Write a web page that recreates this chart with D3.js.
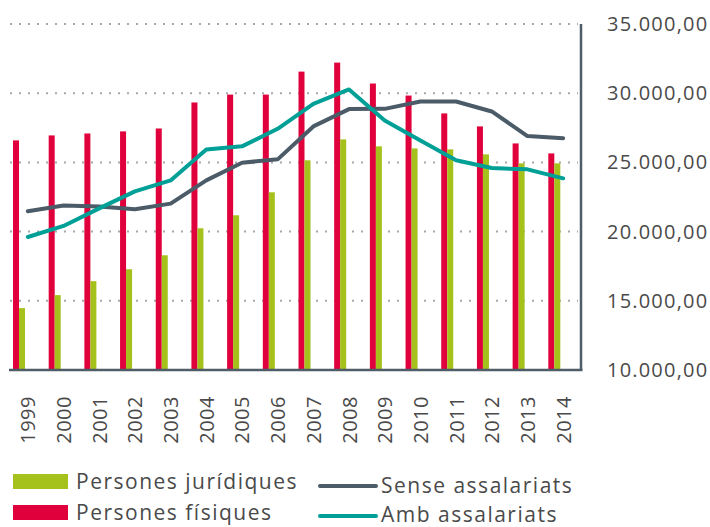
<!DOCTYPE html>
<html>
<head>
<meta charset="utf-8">
<script src="https://cdn.jsdelivr.net/npm/d3@7"></script>
<style>
  body { margin: 0; background: #fff; }
  svg { display: block; font-family: "Open Sans", sans-serif; }
</style>
</head>
<body>
<div id="viz"></div>
<script>
let years = ["1999","2000","2001","2002","2003","2004","2005","2006","2007","2008","2009","2010","2011","2012","2013","2014"];
let fisiques   = [26590, 26950, 27090, 27240, 27450, 29330, 29900, 29900, 31560, 32210, 30700, 29830, 28540, 27600, 26370, 25650];
let juridiques = [14470, 15410, 16420, 17280, 18290, 20240, 21180, 22840, 25150, 26660, 26160, 26010, 25940, 25580, 24930, 24930];
let sense      = [21470, 21880, 21810, 21610, 22020, 23700, 24980, 25220, 27600, 28850, 28870, 29400, 29400, 28680, 26900, 26750];
let amb        = [19610, 20410, 21680, 22910, 23700, 25940, 26160, 27430, 29230, 30270, 28030, 26590, 25150, 24590, 24500, 23850];
let yTicks = [10000, 15000, 20000, 25000, 30000, 35000];
let barSeries = ["Persones físiques", "Persones jurídiques"];
let lineSeries = ["Sense assalariats", "Amb assalariats"];

function draw() {
	let width = 710, height = 527;
	let left = 10, right = 581, top = 24, bottom = 370;

	let colors = {
		"Persones físiques": "#e0003b",
		"Persones jurídiques": "#a4c11c",
		"Sense assalariats": "#4b5b67",
		"Amb assalariats": "#00a097"
	};
	let axisColor = "#4f5d69";
	let textColor = "#4a4a4a";

	let svg = d3.select("#viz").append("svg")
		.attr("width", width).attr("height", height);

	let x = d3.scaleBand().domain(years).range([left, right]);
	let xs = d3.scaleBand().domain(barSeries).range([3, 15]);
	let y = d3.scaleLinear().domain([10000, 35000]).range([bottom, top]);

	// dotted gridlines
	svg.append("g").selectAll("line")
		.data(yTicks.filter(t => t > 10000))
		.join("line")
		.attr("x1", left).attr("x2", right - 3)
		.attr("y1", d => y(d)).attr("y2", d => y(d))
		.attr("stroke", "#a8a8a8")
		.attr("stroke-width", 2)
		.attr("stroke-dasharray", "2,7");

	// bars
	let barData = [fisiques, juridiques];
	barSeries.forEach((s, i) => {
		svg.append("g").selectAll("rect")
			.data(barData[i])
			.join("rect")
			.attr("x", (d, j) => x(years[j]) + xs(s))
			.attr("width", xs.bandwidth())
			.attr("y", d => y(d))
			.attr("height", d => bottom - y(d))
			.attr("fill", colors[s]);
	});

	// lines
	let line = d3.line()
		.x((d, j) => x(years[j]) + x.bandwidth() / 2)
		.y(d => y(d));
	let lineData = [sense, amb];
	lineSeries.forEach((s, i) => {
		svg.append("path")
			.attr("d", line(lineData[i]))
			.attr("fill", "none")
			.attr("stroke", colors[s])
			.attr("stroke-width", 4)
			.attr("stroke-linecap", "round")
			.attr("stroke-linejoin", "round");
	});

	// axes lines
	svg.append("line")
		.attr("x1", left - 1).attr("x2", right + 1.5)
		.attr("y1", bottom).attr("y2", bottom)
		.attr("stroke", axisColor).attr("stroke-width", 2.5);
	svg.append("line")
		.attr("x1", right).attr("x2", right)
		.attr("y1", top).attr("y2", bottom)
		.attr("stroke", axisColor).attr("stroke-width", 2.5);

	// y axis labels
	let loc = d3.formatLocale({decimal: ",", thousands: ".", grouping: [3], currency: ["", "€"]});
	let fmt = loc.format(",.2f");
	let yAxis = svg.append("g")
		.attr("transform", `translate(${right},0)`)
		.call(d3.axisRight(y).tickValues(yTicks).tickSize(0).tickPadding(26).tickFormat(fmt));
	yAxis.select(".domain").remove();
	yAxis.selectAll("text")
		.attr("fill", textColor)
		.style("font-size", "20px")
		.style("letter-spacing", "1.2px")
		.style("font-family", "'Open Sans', sans-serif");

	// x axis labels
	let xAxis = svg.append("g")
		.attr("transform", `translate(0,${bottom})`)
		.call(d3.axisBottom(x).tickSize(0));
	xAxis.select(".domain").remove();
	xAxis.selectAll("text")
		.attr("transform", "rotate(-90)")
		.attr("x", -26).attr("y", 0.5)
		.attr("dy", "0.35em")
		.attr("text-anchor", "end")
		.attr("fill", textColor)
		.style("font-size", "20px")
		.style("letter-spacing", "0.5px")
		.style("font-family", "'Open Sans', sans-serif");

	// legend
	let legBars = svg.append("g");
	[barSeries[1], barSeries[0]].forEach((s, i) => {
		legBars.append("rect")
			.attr("x", 13).attr("y", 474 + i * 31)
			.attr("width", 55).attr("height", 15)
			.attr("fill", colors[s]);
		legBars.append("text")
			.attr("x", 76).attr("y", 489 + i * 31)
			.attr("fill", textColor)
			.style("font-size", "21px")
			.style("letter-spacing", "1.5px")
			.text(s);
	});
	let legLines = svg.append("g");
	lineSeries.forEach((s, i) => {
		legLines.append("line")
			.attr("x1", 320).attr("x2", 376)
			.attr("y1", 486 + i * 30).attr("y2", 486 + i * 30)
			.attr("stroke", colors[s]).attr("stroke-width", 4)
			.attr("stroke-linecap", "round");
		legLines.append("text")
			.attr("x", 381).attr("y", 492.5 + i * 29.5)
			.attr("fill", textColor)
			.style("font-size", "21px")
			.style("letter-spacing", "1.5px")
			.text(s);
	});
}
draw();
</script>
</body>
</html>
